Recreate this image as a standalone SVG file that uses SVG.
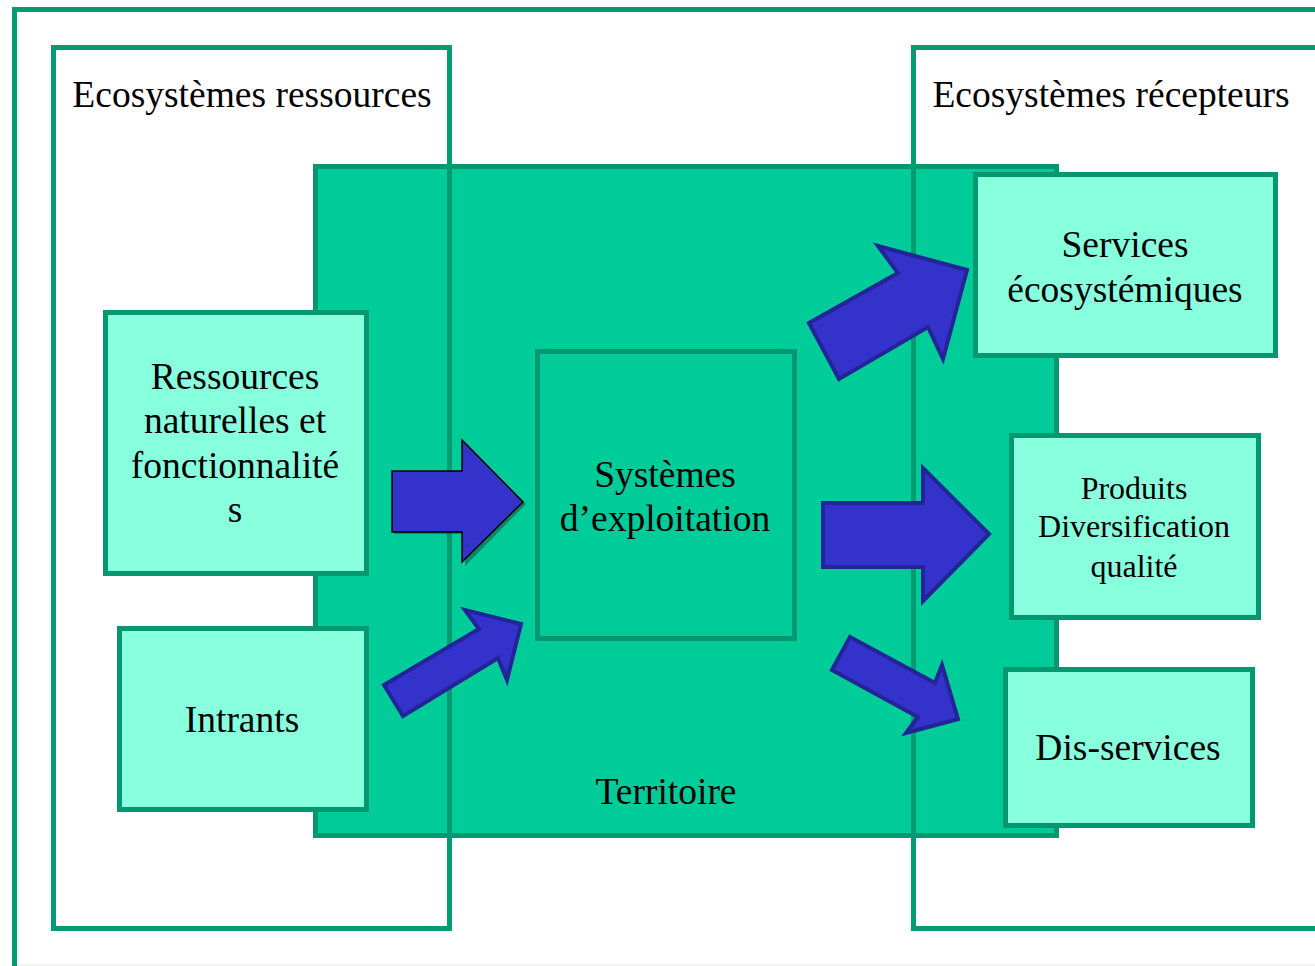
<svg xmlns="http://www.w3.org/2000/svg" width="1315" height="966" viewBox="0 0 1315 966">
  <style>
    .frame { fill: none; stroke: #049a72; stroke-width: 5; }
    .eco { fill: none; stroke: #049a72; stroke-width: 5; }
    .terr { fill: #00cc99; stroke: #03986f; stroke-width: 5; }
    .box { fill: #88ffdd; stroke: #039870; stroke-width: 5; }
    .inner { fill: none; stroke: #039870; stroke-width: 5; }
    .arrow { fill: #3333cc; stroke: #242499; stroke-width: 4; stroke-linejoin: miter; }
    .arrow-b { fill: #3333cc; stroke: #000; stroke-width: 1.5; }
    text { font-family: "Liberation Serif", "Times New Roman", serif; fill: #000; text-anchor: middle; }
    .lg { font-size: 37.5px; }
    .md { font-size: 32px; }
  </style>

  <rect width="1315" height="966" fill="#fff"/>

  <!-- outer frame -->
  <path class="frame" d="M14.5 970 V9.5 H1320"/>
  <line x1="17" y1="965" x2="1315" y2="965" stroke="#dcefe9" stroke-width="1"/>

  <!-- territory -->
  <g id="territoire">
    <rect class="terr" x="315.5" y="166.5" width="741" height="669"/>
    <text class="lg" x="666" y="804">Territoire</text>
  </g>

  <!-- ecosystem frames (borders drawn over the territory) -->
  <g id="eco-ressources">
    <rect class="eco" x="53.5" y="47.5" width="396" height="881"/>
    <text class="lg" x="252" y="107">Ecosystèmes ressources</text>
  </g>
  <g id="eco-recepteurs">
    <path class="eco" d="M1320 47.5 H913.5 V928.5 H1320"/>
    <text class="lg" x="1111" y="107">Ecosystèmes récepteurs</text>
  </g>

  <g id="ressources">
    <rect class="box" x="105.5" y="312.5" width="261" height="261"/>
    <text class="lg" x="235" y="389">Ressources</text>
    <text class="lg" x="235" y="433">naturelles et</text>
    <text class="lg" x="235" y="478">fonctionnalité</text>
    <text class="lg" x="235" y="522">s</text>
  </g>

  <g id="intrants">
    <rect class="box" x="119.5" y="628.5" width="247" height="181"/>
    <text class="lg" x="242" y="732">Intrants</text>
  </g>

  <g id="systemes">
    <rect class="inner" x="537.5" y="351.5" width="257" height="287"/>
    <text class="lg" x="665" y="487">Systèmes</text>
    <text class="lg" x="665" y="531">d’exploitation</text>
  </g>

  <g id="services">
    <rect class="box" x="975.5" y="174.5" width="300" height="181"/>
    <text class="lg" x="1125" y="257">Services</text>
    <text class="lg" x="1125" y="302">écosystémiques</text>
  </g>

  <g id="produits">
    <rect class="box" x="1011.5" y="435.5" width="247" height="182"/>
    <text class="md" x="1134" y="499">Produits</text>
    <text class="md" x="1134" y="537">Diversification</text>
    <text class="md" x="1134" y="577">qualité</text>
  </g>

  <g id="dis-services">
    <rect class="box" x="1005.5" y="669.5" width="247" height="156"/>
    <text class="lg" x="1128" y="760">Dis-services</text>
  </g>

  <!-- block arrows -->
  <g id="connectors">
    <!-- resources to farming systems: outlined with a stippled shadow -->
    <polygon points="394,473 465,473 465,442 526,504 465,566 465,534 394,534" fill="#1a4d3a" opacity="0.55"/>
    <polygon class="arrow-b" points="392,471 462,471 462,440 523,502 462,562 462,532 392,532"/>
    <!-- inputs to farming systems -->
    <polygon class="arrow" points="384,685 479,629 465,610 521,624 507,680 498,658 403,716"/>
    <!-- outputs -->
    <polygon class="arrow" points="809,323 898,273 878,246 967,270 943,359 928,327 839,379"/>
    <polygon class="arrow" points="823,503 923,503 923,468 989,534 923,601 923,567 823,567"/>
    <polygon class="arrow" points="850,637 935,683 942,665 958,719 906,733 918,717 832,670"/>
  </g>
</svg>
